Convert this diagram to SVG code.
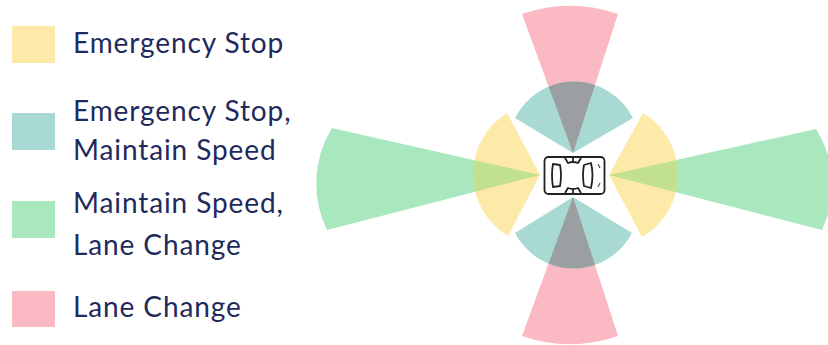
<svg xmlns="http://www.w3.org/2000/svg" width="828" height="345" viewBox="0 0 828 345">
<style>
.y{fill:#fde9a8}.t{fill:#a8d9d3}.g{fill:#a9e8be}.r{fill:#fbb9c3}.k{fill:#9c9fa1}.l{fill:#c2e18e}
text{font-family:"Lato","Open Sans",sans-serif;font-size:28px;letter-spacing:.9px;fill:#1f2a5c}
.c{fill:none;stroke:#222;stroke-width:1.8;stroke-linejoin:round}
</style>
<defs>
<filter id="soft" x="-5%" y="-5%" width="110%" height="110%"><feGaussianBlur stdDeviation="0.5"/></filter>
<path id="tt" d="M573 153L515 118A66 66 0 0 1 633 118Z"/>
<path id="tb" d="M573 197L515 233A66 66 0 0 0 632 233Z"/>
<path id="yl" d="M540 175L507 113A72 72 0 0 0 508 236Z"/>
<path id="yr" d="M609 175L643 113A72 72 0 0 1 642 237Z"/>
<clipPath id="ctt"><use href="#tt"/></clipPath>
<clipPath id="ctb"><use href="#tb"/></clipPath>
<clipPath id="cyl"><use href="#yl"/></clipPath>
<clipPath id="cyr"><use href="#yr"/></clipPath>
<path id="rt" d="M573 153L522 14A148 148 0 0 1 618 14Z"/>
<path id="rb" d="M573 197L522 336A148 148 0 0 0 618 336Z"/>
<path id="gl" d="M540 175L332 128A106 106 0 0 0 327 230Z"/>
<path id="gr" d="M609 175L816 129A105 105 0 0 1 822 230Z"/>
</defs>
<g id="legend">
<g id="legend-emergency-stop"><rect class="y" x="12" y="26" width="43" height="37"/><text x="73" y="53">Emergency Stop</text></g>
<g id="legend-emergency-maintain"><rect class="t" x="12" y="113" width="43" height="37"/><text x="73" y="121">Emergency Stop,</text><text x="73" y="160">Maintain Speed</text></g>
<g id="legend-maintain-lane"><rect class="g" x="12" y="201" width="43" height="37"/><text x="73" y="213">Maintain Speed,</text><text x="73" y="255">Lane Change</text></g>
<g id="legend-lane-change"><rect class="r" x="12" y="291" width="43" height="36"/><text x="73" y="317">Lane Change</text></g>
</g>
<g id="zones" filter="url(#soft)">
<use href="#rt" class="r"/><use href="#rb" class="r"/><use href="#gl" class="g"/><use href="#gr" class="g"/>
<use href="#tt" class="t"/><use href="#tb" class="t"/><use href="#yl" class="y"/><use href="#yr" class="y"/>
<g clip-path="url(#ctt)"><use href="#rt" class="k"/></g>
<g clip-path="url(#ctb)"><use href="#rb" class="k"/></g>
<g clip-path="url(#cyl)"><use href="#gl" class="l"/></g>
<g clip-path="url(#cyr)"><use href="#gr" class="l"/></g>
</g>
<g id="car">
<rect class="c" x="544.5" y="157" width="60" height="37" rx="4"/>
<path class="c" d="M553 164L560 165Q562 175 560 186L553 187Q551 175 553 164Z"/>
<path class="c" d="M584 165L591 163Q594 175 591 188L584 186Q582 175 584 165Z"/>
<path class="c" d="M565 158L568 163Q573 161 578 163L581 158M573 158V162"/>
<path class="c" d="M565 193L568 188Q573 190 578 188L581 193M573 193V189"/>
<path class="c" style="stroke-width:1" d="M598 164L600 168M598 187L600 183"/>
</g>
</svg>
